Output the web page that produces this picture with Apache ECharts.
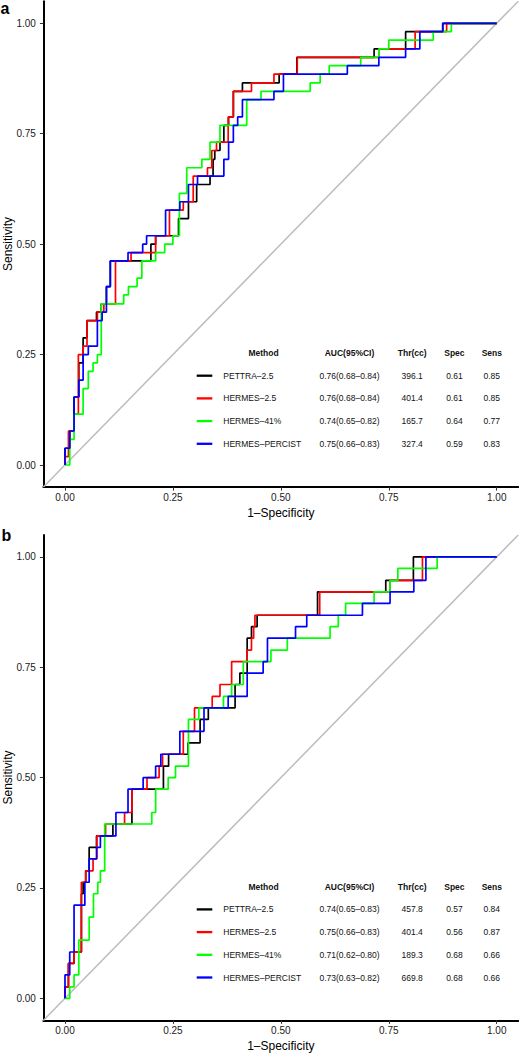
<!DOCTYPE html>
<html><head><meta charset="utf-8">
<script src="https://cdn.jsdelivr.net/npm/echarts@6/dist/echarts.min.js"></script>
<style>html,body{margin:0;padding:0;background:#fff}#c{width:519px;height:1053px}</style>
</head><body><div id="c"></div>
<script>
// ---------- data ----------
const xTicks = [0, 0.25, 0.5, 0.75, 1];
const yTicks = [0, 0.25, 0.5, 0.75, 1];
const panelLabels = ['a', 'b'];
const axisTitleX = '1\u2013Specificity';
const axisTitleY = 'Sensitivity';
const methods = ['PETTRA\u20132.5', 'HERMES\u20132.5', 'HERMES\u201341%', 'HERMES\u2013PERCIST'];
const colors = ['#000000', '#ff0000', '#00ff00', '#0000ff'];
const tableHeader = ['Method', 'AUC(95%CI)', 'Thr(cc)', 'Spec', 'Sens'];

const aucA  = ['0.76(0.68\u20130.84)', '0.76(0.68\u20130.84)', '0.74(0.65\u20130.82)', '0.75(0.66\u20130.83)'];
const thrA  = ['396.1', '401.4', '165.7', '327.4'];
const specA = ['0.61', '0.61', '0.64', '0.59'];
const sensA = ['0.85', '0.85', '0.77', '0.83'];

const aucB  = ['0.74(0.65\u20130.83)', '0.75(0.66\u20130.83)', '0.71(0.62\u20130.80)', '0.73(0.63\u20130.82)'];
const thrB  = ['457.8', '401.4', '189.3', '669.8'];
const specB = ['0.57', '0.56', '0.68', '0.68'];
const sensB = ['0.84', '0.87', '0.66', '0.66'];

// ROC step points (1-specificity, sensitivity): each point is where the curve jumps to the new sensitivity
const aPettraX = [0,0,0.011,0.021,0.032,0.042,0.051,0.073,0.084,0.096,0.105,0.199,0.21,0.263,0.286,0.305,0.336,0.343,0.347,0.359,0.368,0.379,0.39,0.411,0.496,0.537,0.716,0.789,0.875,1];
const aPettraY = [0,0.038,0.077,0.154,0.231,0.288,0.327,0.346,0.365,0.404,0.462,0.5,0.519,0.558,0.596,0.635,0.654,0.692,0.712,0.731,0.769,0.788,0.846,0.865,0.885,0.923,0.942,0.981,1,1];
const aH25X = [0,0,0.008,0.021,0.031,0.042,0.051,0.075,0.09,0.117,0.153,0.21,0.242,0.274,0.297,0.33,0.34,0.351,0.378,0.39,0.432,0.484,0.538,0.727,0.811,0.884,1];
const aH25Y = [0,0.019,0.077,0.115,0.25,0.269,0.327,0.346,0.365,0.462,0.481,0.519,0.577,0.596,0.654,0.673,0.712,0.731,0.788,0.846,0.865,0.885,0.923,0.942,0.981,1,1];
const aH41X = [0,0.011,0.021,0.042,0.054,0.065,0.075,0.084,0.136,0.147,0.167,0.178,0.21,0.231,0.25,0.265,0.282,0.317,0.336,0.359,0.421,0.454,0.568,0.591,0.612,0.685,0.727,0.75,0.853,0.895,1];
const aH41Y = [0,0.058,0.115,0.173,0.212,0.231,0.25,0.365,0.385,0.404,0.423,0.462,0.481,0.5,0.519,0.615,0.673,0.692,0.731,0.769,0.827,0.846,0.865,0.885,0.904,0.923,0.942,0.962,0.981,1,1];
const aPercX = [0,0,0.011,0.021,0.032,0.042,0.054,0.075,0.086,0.096,0.105,0.146,0.18,0.189,0.233,0.266,0.286,0.307,0.368,0.379,0.39,0.40,0.411,0.484,0.506,0.654,0.727,0.789,0.822,0.875,1];
const aPercY = [0,0.038,0.077,0.154,0.192,0.25,0.269,0.327,0.346,0.404,0.462,0.481,0.5,0.519,0.577,0.596,0.635,0.654,0.692,0.731,0.769,0.788,0.827,0.846,0.885,0.904,0.923,0.942,0.981,1,1];

const bPettraX = [0,0,0.008,0.021,0.038,0.042,0.048,0.056,0.073,0.111,0.155,0.228,0.24,0.285,0.313,0.332,0.394,0.405,0.422,0.432,0.445,0.585,0.743,0.807,1];
const bPettraY = [0,0.026,0.079,0.105,0.237,0.263,0.289,0.342,0.368,0.395,0.474,0.526,0.553,0.579,0.632,0.658,0.711,0.737,0.816,0.842,0.868,0.921,0.947,1,1];
const bH25X = [0,0,0.008,0.021,0.038,0.048,0.065,0.074,0.094,0.138,0.155,0.19,0.218,0.226,0.274,0.3,0.341,0.359,0.386,0.422,0.432,0.437,0.44,0.59,0.753,0.828,1];
const bH25Y = [0,0.026,0.079,0.105,0.263,0.289,0.316,0.368,0.395,0.421,0.474,0.5,0.526,0.553,0.605,0.658,0.684,0.711,0.763,0.789,0.816,0.842,0.868,0.921,0.947,1,1];
const bH41X = [0,0.011,0.021,0.032,0.056,0.066,0.076,0.082,0.092,0.201,0.21,0.239,0.256,0.286,0.31,0.367,0.386,0.413,0.477,0.515,0.614,0.633,0.65,0.716,0.753,0.771,0.862,1];
const bH41Y = [0,0.026,0.053,0.132,0.184,0.237,0.263,0.289,0.395,0.421,0.474,0.5,0.526,0.632,0.658,0.684,0.711,0.763,0.789,0.816,0.842,0.868,0.895,0.921,0.947,0.974,1,1];
const bPercX = [0,0,0.011,0.021,0.046,0.056,0.073,0.082,0.118,0.146,0.181,0.21,0.222,0.266,0.322,0.378,0.422,0.459,0.469,0.534,0.56,0.689,0.753,0.808,0.836,1];
const bPercY = [0,0.053,0.105,0.211,0.263,0.316,0.342,0.368,0.421,0.474,0.5,0.526,0.553,0.605,0.658,0.684,0.737,0.763,0.816,0.842,0.868,0.895,0.921,0.947,1,1];

const diagonal = [[-0.05, -0.05], [1.05, 1.05]];

// ---------- chart ----------
const FF = '"Liberation Sans", Arial, Helvetica, sans-serif';
const zip = (xs, ys) => xs.map((x, i) => [x, ys[i]]);
const panels = [
  {curves: [[aPettraX, aPettraY], [aH25X, aH25Y], [aH41X, aH41Y], [aPercX, aPercY]],
   auc: aucA, thr: thrA, spec: specA, sens: sensA},
  {curves: [[bPettraX, bPettraY], [bH25X, bH25Y], [bH41X, bH41Y], [bPercX, bPercY]],
   auc: aucB, thr: thrB, spec: specB, sens: sensB}
];
const gridBoxes = [
  {left: 43.4, top: 1.2, width: 474.9, height: 485.9},
  {left: 43.4, top: 534.9, width: 474.9, height: 485.5}
];
const labelPos = [{x: 0.5, y: 0}, {x: 1.5, y: 527}];
const yTitlePos = [{x: 7.5, y: 244}, {x: 7.5, y: 777.5}];
const tableTop = [353, 886.7];
const rowH = 22.7;

function xAxisCfg(gi) {
  return {
    type: 'value', gridIndex: gi, min: -0.05, max: 1.05,
    axisLine: {show: true, onZero: false, lineStyle: {color: '#000', width: 2}},
    axisTick: {show: true, customValues: xTicks, length: 3.5, lineStyle: {color: '#333', width: 1}},
    axisLabel: {customValues: xTicks, formatter: v => v.toFixed(2), fontSize: 10, color: '#1a1a1a', margin: 5.5, fontFamily: FF},
    splitLine: {show: false},
    name: axisTitleX, nameLocation: 'middle', nameGap: 20,
    nameTextStyle: {fontSize: 12, color: '#000', fontFamily: FF}
  };
}
function yAxisCfg(gi) {
  return {
    type: 'value', gridIndex: gi, min: -0.05, max: 1.05,
    axisLine: {show: true, onZero: false, lineStyle: {color: '#000', width: 2}},
    axisTick: {show: true, customValues: yTicks, length: 3.5, lineStyle: {color: '#333', width: 1}},
    axisLabel: {customValues: yTicks, formatter: v => v.toFixed(2), fontSize: 10, color: '#1a1a1a', margin: 7.5, fontFamily: FF},
    splitLine: {show: false}
  };
}

const series = [];
const graphics = [];
panels.forEach((p, gi) => {
  series.push({
    type: 'line', xAxisIndex: gi, yAxisIndex: gi, data: diagonal, silent: true,
    symbol: 'none', lineStyle: {color: '#bdbdbd', width: 1.5}, z: 1
  });
  p.curves.forEach((c, k) => {
    series.push({
      type: 'line', name: methods[k], xAxisIndex: gi, yAxisIndex: gi, step: 'end',
      data: zip(c[0], c[1]), symbol: 'none', silent: true,
      lineStyle: {color: colors[k], width: 1.7}, z: 2 + k
    });
  });
  // panel letter
  graphics.push({type: 'text', x: labelPos[gi].x, y: labelPos[gi].y,
    style: {text: panelLabels[gi], font: 'bold 16px ' + FF, fill: '#000', verticalAlign: 'top', align: 'left'}});
  // y axis title
  graphics.push({type: 'text', x: yTitlePos[gi].x, y: yTitlePos[gi].y, rotation: Math.PI / 2,
    style: {text: axisTitleY, font: '12px ' + FF, fill: '#000', align: 'center', verticalAlign: 'middle'}});
  // legend table
  const t0 = tableTop[gi];
  const hdrX = [263.5, 349.5, 412.2, 454.4, 491.8];
  tableHeader.forEach((h, j) => graphics.push({type: 'text', x: hdrX[j], y: t0,
    style: {text: h, font: 'bold 8.5px ' + FF, fill: '#111', align: 'center', verticalAlign: 'middle'}}));
  methods.forEach((m, k) => {
    const y = t0 + rowH * (k + 1);
    graphics.push({type: 'line', shape: {x1: 196.7, y1: y, x2: 212.3, y2: y},
      style: {stroke: colors[k], lineWidth: 2.3}});
    graphics.push({type: 'text', x: 223.3, y: y,
      style: {text: m, font: '8.5px ' + FF, fill: '#111', align: 'left', verticalAlign: 'middle'}});
    [p.auc[k], p.thr[k], p.spec[k], p.sens[k]].forEach((v, j) => graphics.push({type: 'text', x: hdrX[j + 1], y: y,
      style: {text: v, font: '8.5px ' + FF, fill: '#111', align: 'center', verticalAlign: 'middle'}}));
  });
});

const chart = echarts.init(document.getElementById('c'), null, {renderer: 'svg', width: 519, height: 1053});
chart.setOption({
  animation: false,
  backgroundColor: '#ffffff',
  grid: gridBoxes.map(g => Object.assign({containLabel: false, outerBoundsMode: 'none'}, g)),
  xAxis: [xAxisCfg(0), xAxisCfg(1)],
  yAxis: [yAxisCfg(0), yAxisCfg(1)],
  series: series,
  graphic: graphics
});
</script></body></html>
